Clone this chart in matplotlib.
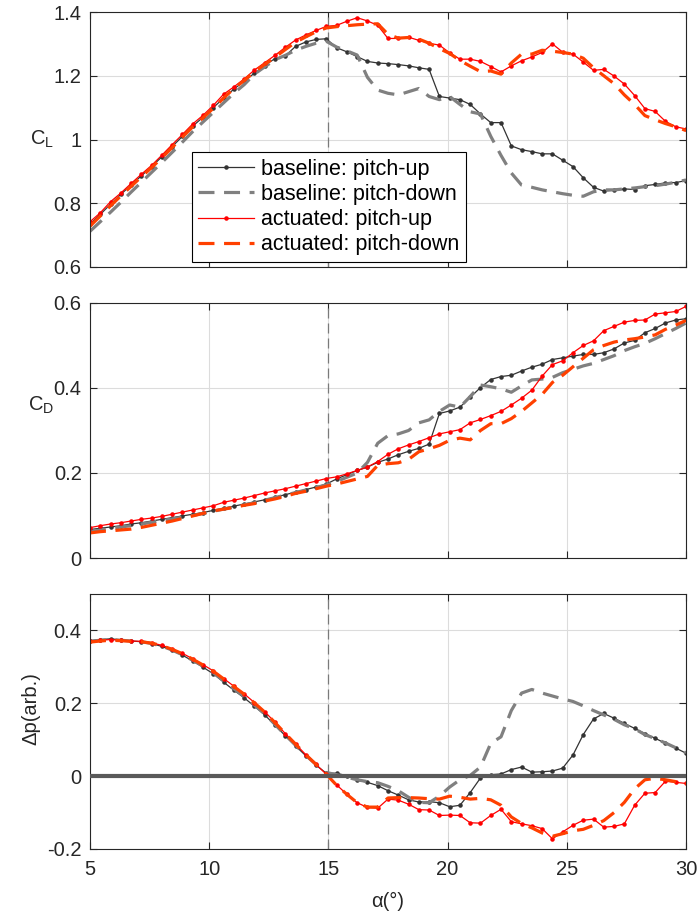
import numpy as np
import matplotlib.pyplot as plt

plt.rcParams['font.family'] = ['Liberation Sans', 'DejaVu Sans']
plt.rcParams['mathtext.fontset'] = 'custom'
plt.rcParams['mathtext.rm'] = 'Liberation Sans'
plt.rcParams['mathtext.it'] = 'Liberation Sans'

# angle of attack grid (deg)
alpha = np.linspace(5, 30, 59)

# ---- lift coefficient
cl_base_up = [0.735, 0.765, 0.797, 0.828, 0.857, 0.886, 0.915, 0.946, 0.978, 1.010,
              1.042, 1.070, 1.100, 1.130, 1.158, 1.183, 1.208, 1.232, 1.254, 1.262,
              1.292, 1.306, 1.314, 1.316, 1.288, 1.275, 1.260, 1.245, 1.240, 1.238,
              1.235, 1.231, 1.225, 1.220, 1.135, 1.130, 1.125, 1.110, 1.080, 1.053,
              1.053, 0.980, 0.968, 0.962, 0.955, 0.955, 0.935, 0.915, 0.880, 0.850,
              0.838, 0.841, 0.845, 0.843, 0.855, 0.859, 0.864, 0.865, 0.871]
cl_base_down = [0.712, 0.742, 0.772, 0.803, 0.835, 0.866, 0.897, 0.928, 0.960, 0.992,
                1.025, 1.055, 1.085, 1.115, 1.145, 1.172, 1.205, 1.228, 1.250, 1.264,
                1.280, 1.292, 1.302, 1.308, 1.290, 1.278, 1.265, 1.195, 1.155, 1.145,
                1.140, 1.150, 1.160, 1.135, 1.125, 1.135, 1.110, 1.087, 1.080, 1.010,
                0.950, 0.895, 0.857, 0.850, 0.842, 0.836, 0.830, 0.825, 0.822, 0.836,
                0.842, 0.842, 0.845, 0.848, 0.852, 0.855, 0.860, 0.866, 0.873]
cl_act_up = [0.742, 0.770, 0.805, 0.832, 0.862, 0.891, 0.919, 0.951, 0.984, 1.016,
             1.049, 1.076, 1.107, 1.142, 1.165, 1.190, 1.218, 1.241, 1.264, 1.289,
             1.312, 1.328, 1.342, 1.355, 1.358, 1.371, 1.382, 1.372, 1.358, 1.317,
             1.317, 1.321, 1.311, 1.302, 1.296, 1.272, 1.252, 1.252, 1.245, 1.229,
             1.212, 1.231, 1.247, 1.259, 1.273, 1.300, 1.274, 1.268, 1.243, 1.217,
             1.220, 1.199, 1.174, 1.138, 1.097, 1.088, 1.057, 1.040, 1.033]
cl_act_down = [0.728, 0.760, 0.792, 0.823, 0.853, 0.883, 0.912, 0.943, 0.975, 1.008,
               1.040, 1.068, 1.098, 1.130, 1.160, 1.185, 1.212, 1.236, 1.258, 1.282,
               1.305, 1.322, 1.338, 1.350, 1.354, 1.357, 1.360, 1.362, 1.363, 1.330,
               1.318, 1.320, 1.315, 1.302, 1.285, 1.270, 1.248, 1.230, 1.213, 1.215,
               1.205, 1.240, 1.268, 1.268, 1.280, 1.277, 1.273, 1.268, 1.255, 1.225,
               1.200, 1.175, 1.140, 1.110, 1.075, 1.062, 1.050, 1.040, 1.028]

# ---- drag coefficient
cd_base_up = [0.067, 0.070, 0.073, 0.076, 0.080, 0.083, 0.087, 0.091, 0.095, 0.099,
              0.103, 0.107, 0.112, 0.117, 0.122, 0.127, 0.132, 0.137, 0.143, 0.149,
              0.155, 0.161, 0.167, 0.174, 0.186, 0.196, 0.206, 0.214, 0.225, 0.233,
              0.243, 0.251, 0.258, 0.268, 0.340, 0.346, 0.355, 0.378, 0.401, 0.420,
              0.427, 0.430, 0.440, 0.449, 0.456, 0.467, 0.471, 0.475, 0.479, 0.479,
              0.483, 0.492, 0.506, 0.512, 0.530, 0.540, 0.553, 0.560, 0.563]
cd_base_down = [0.062, 0.066, 0.069, 0.073, 0.076, 0.080, 0.084, 0.088, 0.092, 0.096,
                0.100, 0.105, 0.110, 0.115, 0.120, 0.125, 0.130, 0.136, 0.142, 0.148,
                0.154, 0.160, 0.166, 0.172, 0.180, 0.190, 0.200, 0.225, 0.270, 0.288,
                0.292, 0.300, 0.318, 0.325, 0.345, 0.360, 0.355, 0.380, 0.407, 0.403,
                0.398, 0.390, 0.405, 0.419, 0.421, 0.425, 0.436, 0.444, 0.452, 0.458,
                0.467, 0.476, 0.488, 0.497, 0.505, 0.516, 0.528, 0.540, 0.553]
cd_act_up = [0.0715, 0.076, 0.080, 0.083, 0.087, 0.091, 0.094, 0.098, 0.103, 0.108,
             0.113, 0.118, 0.123, 0.131, 0.136, 0.141, 0.147, 0.153, 0.158, 0.163,
             0.169, 0.175, 0.181, 0.187, 0.191, 0.198, 0.206, 0.214, 0.227, 0.244,
             0.257, 0.266, 0.274, 0.283, 0.292, 0.297, 0.302, 0.318, 0.326, 0.335,
             0.345, 0.360, 0.376, 0.395, 0.428, 0.455, 0.464, 0.483, 0.500, 0.511,
             0.535, 0.545, 0.555, 0.559, 0.560, 0.574, 0.577, 0.580, 0.592]
cd_act_down = [0.059, 0.062, 0.064, 0.066, 0.068, 0.072, 0.077, 0.082, 0.087, 0.093,
               0.099, 0.105, 0.111, 0.115, 0.119, 0.124, 0.128, 0.134, 0.139, 0.145,
               0.152, 0.157, 0.163, 0.169, 0.174, 0.180, 0.186, 0.192, 0.218, 0.222,
               0.224, 0.232, 0.250, 0.257, 0.265, 0.277, 0.282, 0.278, 0.300, 0.316,
               0.316, 0.328, 0.345, 0.365, 0.385, 0.413, 0.430, 0.450, 0.470, 0.490,
               0.500, 0.508, 0.513, 0.516, 0.520, 0.525, 0.538, 0.548, 0.559]

# ---- pressure difference
dp_base_up = [0.372, 0.375, 0.377, 0.374, 0.371, 0.369, 0.364, 0.356, 0.345, 0.332,
              0.316, 0.299, 0.281, 0.258, 0.236, 0.215, 0.192, 0.168, 0.140, 0.111,
              0.083, 0.056, 0.030, 0.008, 0.008, 0.001, -0.011, -0.017, -0.026, -0.040,
              -0.052, -0.065, -0.071, -0.070, -0.073, -0.084, -0.080, -0.045, -0.005, 0.004,
              0.006, 0.018, 0.025, 0.011, 0.012, 0.014, 0.022, 0.058, 0.114, 0.157,
              0.172, 0.159, 0.145, 0.131, 0.117, 0.104, 0.090, 0.077, 0.063]
dp_base_down = [0.370, 0.373, 0.375, 0.373, 0.371, 0.369, 0.364, 0.357, 0.346, 0.333,
                0.318, 0.302, 0.284, 0.262, 0.240, 0.219, 0.195, 0.171, 0.142, 0.113,
                0.085, 0.057, 0.032, 0.010, 0.004, -0.003, -0.010, -0.015, -0.018, -0.028,
                -0.040, -0.058, -0.072, -0.073, -0.055, -0.030, -0.010, 0.002, 0.025, 0.090,
                0.108, 0.180, 0.228, 0.238, 0.228, 0.220, 0.212, 0.205, 0.193, 0.180,
                0.168, 0.156, 0.141, 0.130, 0.114, 0.103, 0.091, 0.078, 0.064]
dp_act_up = [0.370, 0.373, 0.375, 0.373, 0.371, 0.370, 0.366, 0.359, 0.349, 0.337,
             0.322, 0.306, 0.289, 0.268, 0.247, 0.226, 0.202, 0.177, 0.148, 0.117,
             0.088, 0.059, 0.032, 0.005, -0.024, -0.050, -0.073, -0.086, -0.088, -0.063,
             -0.066, -0.077, -0.092, -0.093, -0.108, -0.107, -0.108, -0.128, -0.129, -0.108,
             -0.091, -0.125, -0.131, -0.136, -0.144, -0.172, -0.153, -0.135, -0.121, -0.118,
             -0.140, -0.138, -0.131, -0.080, -0.047, -0.045, -0.014, -0.017, -0.020]
dp_act_down = [0.368, 0.371, 0.373, 0.372, 0.370, 0.369, 0.365, 0.358, 0.348, 0.336,
               0.321, 0.305, 0.288, 0.267, 0.246, 0.225, 0.201, 0.176, 0.147, 0.117,
               0.088, 0.059, 0.032, 0.005, -0.025, -0.050, -0.073, -0.085, -0.085, -0.060,
               -0.059, -0.059, -0.060, -0.062, -0.063, -0.055, -0.058, -0.063, -0.061, -0.065,
               -0.080, -0.112, -0.130, -0.142, -0.156, -0.165, -0.158, -0.150, -0.146, -0.135,
               -0.122, -0.100, -0.072, -0.035, -0.010, -0.006, -0.010, -0.015, -0.020]

labels = ['baseline: pitch-up', 'baseline: pitch-down',
          'actuated: pitch-up', 'actuated: pitch-down']
ylabels = [r'C$_\mathrm{L}$', r'C$_\mathrm{D}$', u'\u0394p(arb.)']
ylims = [(0.6, 1.4), (0, 0.6), (-0.2, 0.5)]
yticks = [[0.6, 0.8, 1, 1.2, 1.4], [0, 0.2, 0.4, 0.6], [-0.2, 0, 0.2, 0.4]]
panels = [(cl_base_up, cl_base_down, cl_act_up, cl_act_down),
          (cd_base_up, cd_base_down, cd_act_up, cd_act_down),
          (dp_base_up, dp_base_down, dp_act_up, dp_act_down)]
# y-label placement in axes coordinates (as in the original figure)
label_xy = [(-0.080, 0.50), (-0.082, 0.60), (-0.099, 0.55)]

tc = '#262626'
fs = 14.5
fig = plt.figure(figsize=(6.97, 9.19), dpi=100)
bottoms = [1 - 267/919, 1 - 558/919, 1 - 849/919]
for k in range(3):
    ax = fig.add_axes([90/697, bottoms[k], 596/697, 255/919])
    b_up, b_dn, a_up, a_dn = panels[k]
    ax.plot(alpha, b_up, '-', color='#333333', lw=0.9, marker='.', ms=4.5, label=labels[0])
    ax.plot(alpha, b_dn, '--', color='#808080', lw=2.3, dashes=(5, 3), label=labels[1])
    ax.plot(alpha, a_up, '-', color='#ff0000', lw=0.9, marker='.', ms=4.5, label=labels[2])
    ax.plot(alpha, a_dn, '--', color='#ff4000', lw=2.3, dashes=(5, 3), label=labels[3])
    ax.axvline(15, color='#7a7a7a', lw=0.9, ls=(0, (8, 4)), zorder=1)
    if k == 2:
        ax.axhline(0, color='#5a5a5a', lw=3, zorder=5)
    ax.set_xlim(5, 30)
    ax.set_ylim(*ylims[k])
    ax.set_yticks(yticks[k])
    ax.set_yticklabels(['%g' % v for v in yticks[k]])
    ax.set_xticks([5, 10, 15, 20, 25, 30])
    if k < 2:
        ax.set_xticklabels([])
    else:
        ax.set_xlabel(u'\u03b1(\u00b0)', fontsize=fs, color=tc, labelpad=9)
    ax.set_ylabel(ylabels[k], fontsize=fs, color=tc, rotation=90 if k == 2 else 0,
                  ha='center', va='center')
    ax.yaxis.set_label_coords(*label_xy[k])
    ax.grid(True, color='#dcdcdc', lw=0.8)
    ax.set_axisbelow(True)
    ax.tick_params(direction='in', top=True, right=True, labelsize=fs,
                   colors=tc, length=5, width=0.8)
    ax.tick_params(axis='x', pad=8)
    ax.tick_params(axis='y', pad=6)
    for s in ax.spines.values():
        s.set_color(tc)
        s.set_linewidth(0.8)
    if k == 0:
        leg = ax.legend(loc='lower left', bbox_to_anchor=(0.171, 0.02), fontsize=15.5,
                        fancybox=False, framealpha=1, edgecolor='black',
                        handlelength=2.6, borderpad=0.3, labelspacing=0.2,
                        handletextpad=0.3, borderaxespad=0)
        leg.get_frame().set_linewidth(0.8)

fig.savefig('out.png', dpi=100)
